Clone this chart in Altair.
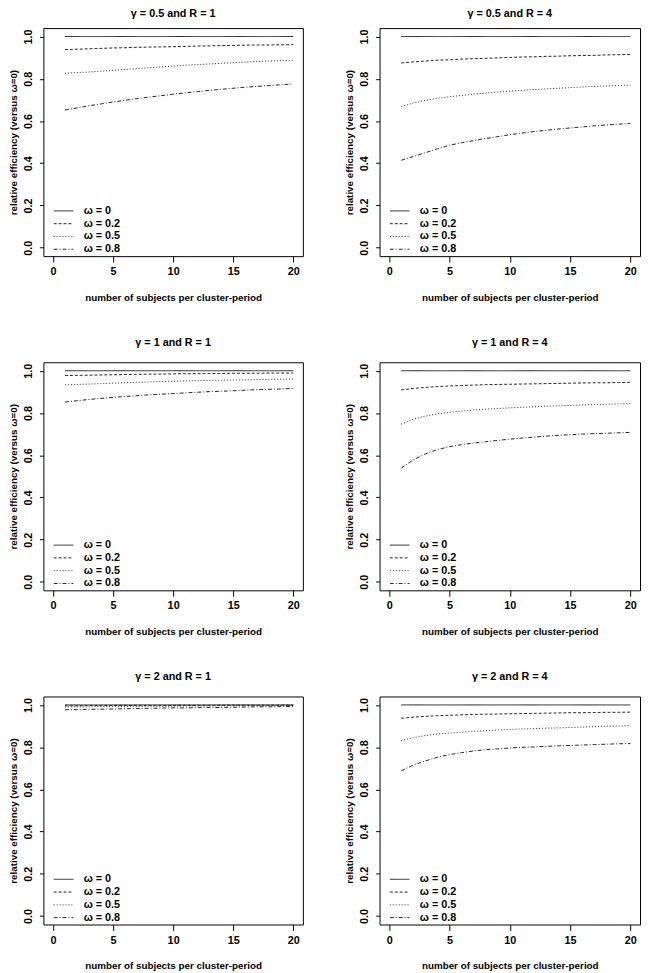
import altair as alt
import pandas as pd

n_subjects = list(range(1, 21))
omega_labels = ["ω = 0", "ω = 0.2", "ω = 0.5", "ω = 0.8"]
panel_titles = [
    "γ = 0.5 and R = 1", "γ = 0.5 and R = 4",
    "γ = 1 and R = 1", "γ = 1 and R = 4",
    "γ = 2 and R = 1", "γ = 2 and R = 4",
]
x_ticks = [0, 5, 10, 15, 20]
y_ticks = [0.0, 0.2, 0.4, 0.6, 0.8, 1.0]

w00 = [1.0, 1.0, 1.0, 1.0, 1.0, 1.0, 1.0, 1.0, 1.0, 1.0,
       1.0, 1.0, 1.0, 1.0, 1.0, 1.0, 1.0, 1.0, 1.0, 1.0]

# gamma = 0.5, R = 1
g05r1_w02 = [.938, .940, .942, .944, .946, .947, .949, .950, .951, .952,
             .953, .955, .956, .957, .958, .959, .960, .960, .961, .962]
g05r1_w05 = [.826, .829, .832, .836, .840, .844, .848, .852, .856, .860,
             .864, .867, .870, .873, .876, .879, .882, .884, .886, .888]
g05r1_w08 = [.652, .662, .672, .681, .690, .698, .706, .713, .720, .727,
             .733, .739, .745, .750, .755, .760, .764, .768, .772, .775]
# gamma = 0.5, R = 4
g05r4_w02 = [.875, .880, .884, .888, .890, .893, .895, .897, .899, .901,
             .903, .904, .906, .907, .909, .910, .911, .913, .914, .915]
g05r4_w05 = [.668, .685, .698, .708, .715, .721, .727, .732, .737, .741,
             .745, .749, .752, .755, .758, .761, .764, .766, .768, .770]
g05r4_w08 = [.414, .432, .450, .468, .485, .497, .507, .517, .526, .535,
             .543, .550, .556, .562, .567, .572, .577, .581, .585, .589]
# gamma = 1, R = 1
g1r1_w02 = [.977, .978, .979, .980, .981, .982, .983, .984, .984, .985,
            .986, .986, .987, .987, .988, .988, .988, .989, .989, .989]
g1r1_w05 = [.933, .935, .937, .939, .941, .943, .945, .947, .949, .950,
            .952, .953, .954, .955, .956, .957, .958, .959, .960, .961]
g1r1_w08 = [.852, .858, .864, .869, .874, .878, .882, .886, .889, .892,
            .895, .898, .901, .903, .905, .908, .910, .912, .914, .916]
# gamma = 1, R = 4
g1r4_w02 = [.909, .916, .921, .925, .928, .930, .932, .934, .935, .936,
            .937, .938, .939, .940, .941, .942, .943, .943, .944, .945]
g1r4_w05 = [.747, .770, .785, .796, .803, .809, .814, .818, .821, .824,
            .827, .829, .832, .834, .836, .838, .840, .841, .843, .844]
g1r4_w08 = [.539, .578, .606, .627, .640, .650, .658, .664, .670, .676,
            .681, .686, .690, .694, .697, .700, .702, .704, .706, .708]
# gamma = 2, R = 1
g2r1_w02 = [.996, .996, .997, .997, .997, .997, .998, .998, .998, .998,
            .998, .998, .998, .999, .999, .999, .999, .999, .999, .999]
g2r1_w05 = [.990, .991, .991, .992, .992, .993, .993, .994, .994, .994,
            .995, .995, .995, .996, .996, .996, .996, .997, .997, .997]
g2r1_w08 = [.977, .978, .979, .980, .981, .982, .983, .984, .985, .986,
            .986, .987, .988, .988, .989, .990, .991, .991, .992, .993]
# gamma = 2, R = 4
g2r4_w02 = [.937, .942, .946, .949, .951, .953, .955, .956, .957, .958,
            .959, .960, .961, .962, .963, .963, .964, .965, .965, .966]
g2r4_w05 = [.831, .845, .855, .862, .867, .871, .875, .878, .881, .884,
            .886, .888, .890, .891, .893, .895, .897, .899, .900, .902]
g2r4_w08 = [.688, .715, .735, .752, .765, .774, .782, .788, .792, .796,
            .799, .801, .804, .806, .808, .810, .812, .814, .816, .817]

panel_series = [
    [w00, g05r1_w02, g05r1_w05, g05r1_w08],
    [w00, g05r4_w02, g05r4_w05, g05r4_w08],
    [w00, g1r1_w02, g1r1_w05, g1r1_w08],
    [w00, g1r4_w02, g1r4_w05, g1r4_w08],
    [w00, g2r1_w02, g2r1_w05, g2r1_w08],
    [w00, g2r4_w02, g2r4_w05, g2r4_w08],
]

FONT = "Liberation Sans"
LINE = "#222222"
dash_range = [[1, 0], [3, 2], [1, 2], [4, 2, 1, 2]]

charts = []
for i, (title, series) in enumerate(zip(panel_titles, panel_series)):
    rows = []
    for lab, vals in zip(omega_labels, series):
        for m, v in zip(n_subjects, vals):
            rows.append({"m": m, "re": v, "omega": lab})
    df = pd.DataFrame(rows)
    c = alt.Chart(df).mark_line(color=LINE, strokeWidth=1).encode(
        x=alt.X("m:Q",
                scale=alt.Scale(domain=[-0.8, 20.8], nice=False, zero=False),
                axis=alt.Axis(values=x_ticks, title="number of subjects per cluster-period",
                              tickSize=6, labelPadding=4, titlePadding=16, format="d")),
        y=alt.Y("re:Q",
                scale=alt.Scale(domain=[-0.04, 1.04], nice=False, zero=False),
                axis=alt.Axis(values=y_ticks, title="relative efficiency (versus ω=0)",
                              format=".1f", labelAngle=270, labelAlign="center",
                              labelBaseline="bottom", tickSize=4, labelPadding=6,
                              titlePadding=4)),
        strokeDash=alt.StrokeDash("omega:N",
                                  scale=alt.Scale(domain=omega_labels, range=dash_range),
                                  legend=alt.Legend(orient="none", legendX=10, legendY=179.5,
                                                    title=None, padding=0, rowPadding=0,
                                                    clipHeight=13, symbolSize=400,
                                                    symbolType="stroke", symbolStrokeWidth=1,
                                                    symbolStrokeColor=LINE, labelOffset=10,
                                                    labelFontSize=11, labelFont=FONT,
                                                    labelFontWeight="bold", labelColor="black")),
    ).properties(
        width=264 if i % 2 == 0 else 265,
        height=232,
        title=alt.TitleParams(title, offset=9 if i < 2 else 15, anchor="middle", frame="group"),
    )
    charts.append(c)

chart = alt.concat(
    *charts, columns=2, spacing={"row": 33, "column": 41}, align="none"
).resolve_scale(strokeDash="independent").properties(
    padding={"top": -9, "left": 0, "right": 0, "bottom": 0}
).configure_view(
    stroke="black", strokeWidth=1
).configure_axis(
    grid=False, domain=False, tickColor="black", tickWidth=1,
    labelFont=FONT, labelFontSize=11, labelFontWeight="bold", labelColor="black",
    titleFont=FONT, titleFontSize=10, titleFontWeight="bold", titleColor="black",
).configure_title(
    font=FONT, fontSize=11, fontWeight="bold", color="black"
)

chart.save("out.html", embed_options={"renderer": "svg", "actions": False})
